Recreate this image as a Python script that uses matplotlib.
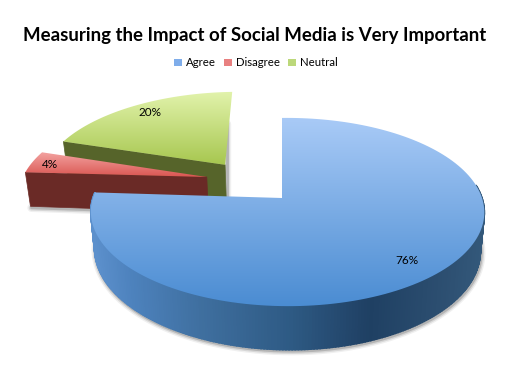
import numpy as np
import matplotlib
matplotlib.use("Agg")
import matplotlib.pyplot as plt
from matplotlib.patches import Polygon, Patch
from matplotlib.colors import to_rgb

title = "Measuring the Impact of Social Media is Very Important"
categories = ["Agree", "Disagree", "Neutral"]
values = [76, 4, 20]

legend_colors = ["#7fadea", "#e88080", "#bcd87a"]
top_colors = [("#aacbf7", "#4a8cd2"), ("#f4a6a4", "#d9534e"), ("#e2f3ac", "#a6c64e")]
side_colors = ["#4a7cb4", "#6a2a26", "#56642a"]

# slice offsets from the pie centre (exploded look), in units of the radius
explode = [(0.0, 0.0), (-0.405, 0.239), (-0.312, 0.385)]
radius = [1.0, 1.03, 1.02]
label_pos = [(407, 261), (50, 165), (150, 112)]

# perspective camera, worked out from the picture
cx, cy = 282, 198
A, B = 194.4, 92.0
k, m = 0.149, -0.028
depth = 37


def project(X, Y, drop=0.0):
    w = 1 + k * Y + m * X
    sx = cx + A * X / w
    sy = cy - B * Y / w
    if drop:
        sx = cx + (sx - cx) * 0.98
        sy = sy + drop / w
    return sx, sy


def slice_points(i, t0, t1, n=160, drop=0.0):
    t = np.linspace(t0, t1, n)
    X = explode[i][0] + radius[i] * np.sin(t)
    Y = explode[i][1] + radius[i] * np.cos(t)
    return project(X, Y, drop)


def draw_top(ax, i, t0, t1, z):
    xs, ys = slice_points(i, t0, t1)
    ax0, ay0 = project(explode[i][0], explode[i][1])
    pts = np.column_stack([np.r_[ax0, xs], np.r_[ay0, ys]])
    f = np.linspace(0, 1, 200)[:, None]
    c1, c2 = top_colors[i]
    grad = (np.array(to_rgb(c1)) + (np.array(to_rgb(c2)) - np.array(to_rgb(c1))) * f)[:, None, :]
    im = ax.imshow(grad, extent=(pts[:, 0].min() - 1, pts[:, 0].max() + 1, pts[:, 1].max() + 1, pts[:, 1].min() - 1),
                   aspect="auto", zorder=z, interpolation="bilinear")
    clip = Polygon(pts, closed=True, transform=ax.transData)
    im.set_clip_path(clip)


def draw_face(ax, p_top, p_bot, color, z, lw=0.5):
    poly = [p_top[0], p_top[1], p_bot[1], p_bot[0]]
    ax.add_patch(Polygon(poly, closed=True, fc=color, ec=color, lw=lw, zorder=z))


def soft_shadow(ax, xs, ys, z):
    for lw, a in [(6, 0.06), (4, 0.10), (2, 0.16)]:
        ax.plot(xs + 1, ys + 1.5, color="black", lw=lw, alpha=a, zorder=z, solid_capstyle="round")


plt.rcParams["font.family"] = ["Lato", "DejaVu Sans"]
fig = plt.figure(figsize=(5.06, 3.68), dpi=100)
ax = fig.add_axes([0, 0, 1, 1])

# angles run clockwise from north, slices in data order
edges = np.r_[0, np.cumsum(values)] / sum(values) * 2 * np.pi

# neutral (back), disagree, then agree in front
for z, i in [(1, 2), (5, 1)]:
    t0, t1 = edges[i], edges[i + 1]
    apex_top = project(*explode[i])
    apex_bot = project(*explode[i], drop=depth)
    xs_t, ys_t = slice_points(i, t0, t0, 1)
    xs_b, ys_b = slice_points(i, t0, t0, 1, drop=depth)
    soft_shadow(ax, np.array([xs_b[0], apex_bot[0]]), np.array([ys_b[0], apex_bot[1]]), z)
    if i == 2:
        # thin right-hand edge of the green wedge
        xe, ye = slice_points(i, t1, t1, 1, drop=depth)
        soft_shadow(ax, np.array([apex_bot[0], apex_bot[0]]), np.array([apex_bot[1], ye[0]]), z)
    draw_face(ax, [(xs_t[0], ys_t[0]), apex_top], [(xs_b[0], ys_b[0]), apex_bot], side_colors[i], z + 1)
    draw_top(ax, i, t0, t1, z + 2)

# big slice: outer wall drawn as thin strips, shaded by position
xs_t, ys_t = slice_points(0, np.radians(82), edges[1], 240)
xs_b, ys_b = slice_points(0, np.radians(82), edges[1], 240, drop=depth)
soft_shadow(ax, xs_b, ys_b, 9)
stops_x = [93, 130, 200, 290, 370, 440, 482]
stops_c = ["#5c90cc", "#4d82bd", "#3f6f9f", "#2e5a84", "#1f4063", "#2c4e70", "#33587a"]
rgb = np.array([to_rgb(c) for c in stops_c])
for j in range(len(xs_t) - 1):
    mid = 0.5 * (xs_t[j] + xs_t[j + 1])
    col = [np.interp(mid, stops_x, rgb[:, c]) for c in range(3)]
    draw_face(ax, [(xs_t[j], ys_t[j]), (xs_t[j + 1], ys_t[j + 1])],
              [(xs_b[j], ys_b[j]), (xs_b[j + 1], ys_b[j + 1])], col, 10, lw=1.2)
draw_top(ax, 0, edges[0], edges[1], 12)

for v, (px, py) in zip(values, label_pos):
    ax.text(px, py, f"{v}%", ha="center", va="center", fontsize=8.5, color="black", zorder=20)

ax.text(255, 35, title, ha="center", va="center", fontsize=13.45, fontweight="bold", color="black")

handles = [Patch(fc=c, ec="none", label=n) for c, n in zip(legend_colors, categories)]
ax.legend(handles=handles, loc="center", bbox_to_anchor=(256, 63), bbox_transform=ax.transData,
          ncol=3, frameon=False, fontsize=8.2, handlelength=0.65, handleheight=0.65,
          handletextpad=0.35, columnspacing=0.75, borderpad=0)

ax.set_xlim(0, 506)
ax.set_ylim(368, 0)
ax.axis("off")
fig.savefig("out.png", dpi=100, facecolor="white")
